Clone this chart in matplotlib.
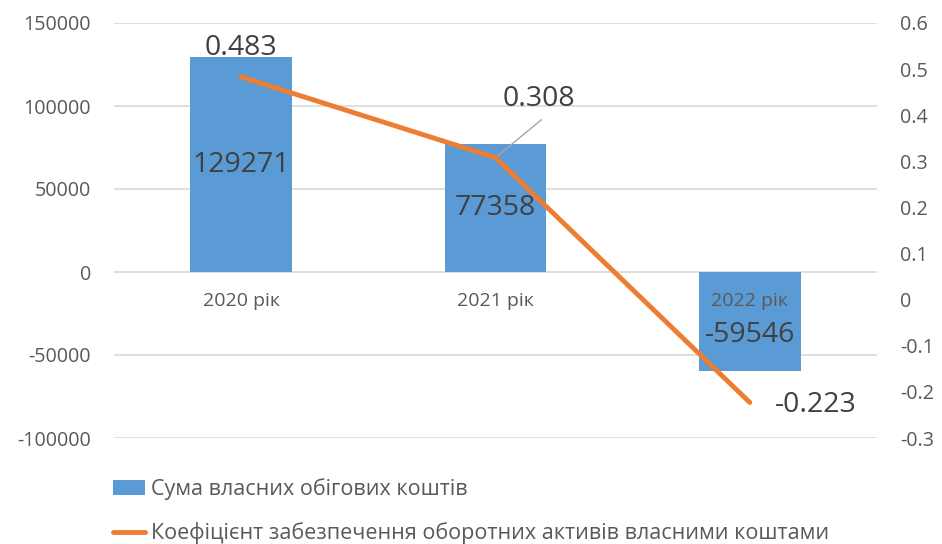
import matplotlib
matplotlib.use("Agg")
import matplotlib.pyplot as plt
from matplotlib.lines import Line2D
from matplotlib.patches import Patch

categories = ["2020 рік", "2021 рік", "2022 рік"]
own_working_capital = [129271, 77358, -59546]
coverage_ratio = [0.483, 0.308, -0.223]
bar_label = "Сума власних обігових коштів"
line_label = "Коефіцієнт забезпечення оборотних активів власними коштами"
left_ticks = [-100000, -50000, 0, 50000, 100000, 150000]
right_ticks = [-0.3, -0.2, -0.1, 0, 0.1, 0.2, 0.3, 0.4, 0.5, 0.6]

plt.rcParams['font.family'] = ['Open Sans', 'DejaVu Sans']
TXT = '#595959'
DARK = '#404040'
BLUE = '#5B9BD5'
ORANGE = '#ED7D31'

fig = plt.figure(figsize=(9.42, 5.44), dpi=100)
W, H = 942, 544
ax = fig.add_axes([114 / W, 1 - 438 / H, 763 / W, 415 / H])
ax2 = ax.twinx()

x = list(range(len(categories)))
ax.bar(x, own_working_capital, width=0.4, color=BLUE, zorder=2)
ax.set_xlim(-0.5, 2.5)
ax.set_ylim(-100000, 150000)
ax.set_yticks(left_ticks)
ax.set_yticklabels([str(t) for t in left_ticks])
ax.grid(axis='y', color='#D9D9D9', linewidth=1.2, zorder=0)
ax.set_axisbelow(True)
ax.set_xticks([])
for s in ax.spines.values():
    s.set_visible(False)
ax.tick_params(axis='y', length=0, pad=16.5, labelsize=14.2, labelcolor=TXT)

ax2.plot(x, coverage_ratio, color=ORANGE, linewidth=3.5, solid_capstyle='round', zorder=3)
ax2.set_ylim(-0.3, 0.6)
ax2.set_yticks(right_ticks)
ax2.set_yticklabels([f"{t:g}" for t in right_ticks], ha='left')
for s in ax2.spines.values():
    s.set_visible(False)
ax2.tick_params(axis='y', length=0, pad=16.5, labelsize=14.2, labelcolor=TXT)

# category labels at zero line
for xi, c in zip(x, categories):
    ax.text(xi, -12000, c, ha='center', va='top', fontsize=14, color=TXT, zorder=4)

# bar value labels
bar_label_y = [64635, 38679, -38000]
for xi, v, ly in zip(x, own_working_capital, bar_label_y):
    ax.text(xi, ly, str(v), ha='center', va='center', fontsize=20.5, color=DARK, zorder=4)

# line value labels
ax2.text(0, 0.545, f"{coverage_ratio[0]:.3f}", ha='center', va='center', fontsize=20.5, color=DARK, zorder=4)
ax2.text(1.17, 0.435, f"{coverage_ratio[1]:.3f}", ha='center', va='center', fontsize=20.5, color=DARK, zorder=4)
ax2.plot([1.0, 1.18], [0.308, 0.39], color='#A6A6A6', linewidth=1, zorder=2)
ax2.text(2.26, -0.229, f"{coverage_ratio[2]:.3f}", ha='center', va='center', fontsize=20.5, color=DARK, zorder=4)

handles = [Patch(facecolor=BLUE, edgecolor='none'),
           Line2D([0], [0], color=ORANGE, linewidth=3.5, solid_capstyle='round')]
leg = fig.legend(handles, [bar_label, line_label], loc='upper left',
                 bbox_to_anchor=(113 / W, 1 - 478 / H), frameon=False, ncol=1,
                 fontsize=15.5, labelcolor=TXT, handlelength=1.5, handletextpad=0.25,
                 labelspacing=1.05, borderaxespad=0, borderpad=0)

fig.savefig("out.png", dpi=100)
